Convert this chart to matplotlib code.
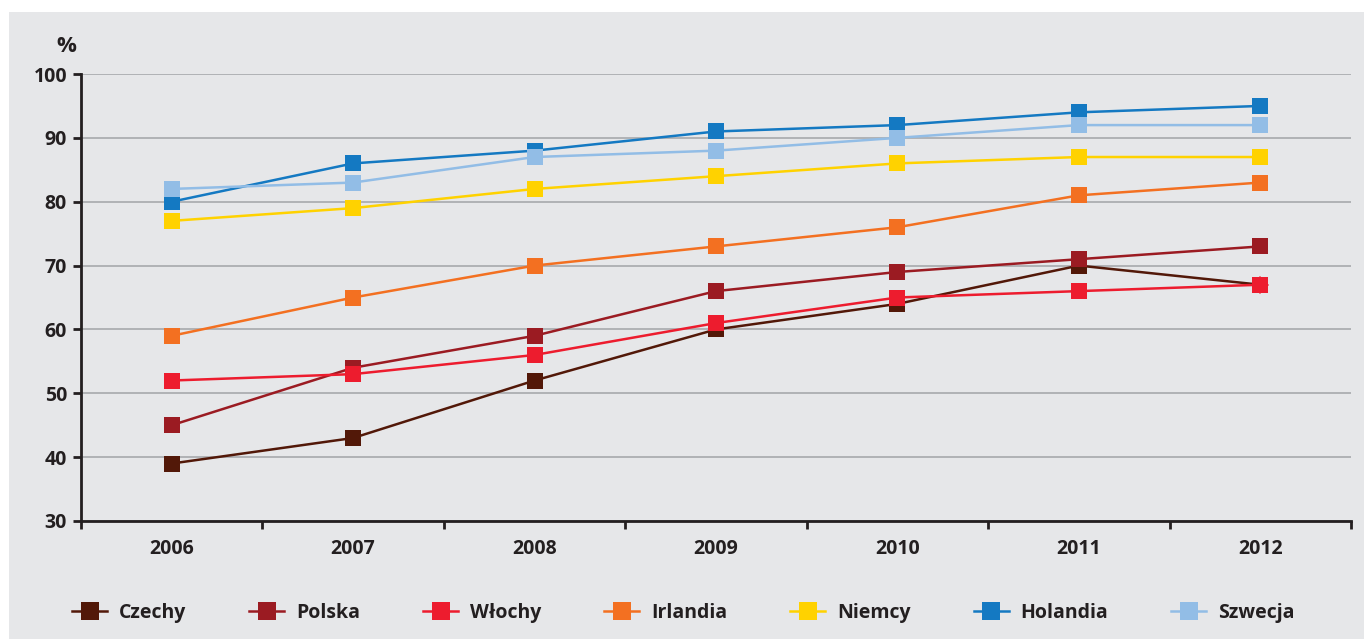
import matplotlib
matplotlib.use('Agg')
import matplotlib.pyplot as plt
from matplotlib.patches import Rectangle
from matplotlib.ticker import MultipleLocator, FixedLocator

plt.rcParams['font.family'] = ['Open Sans', 'DejaVu Sans']

years = ['2006', '2007', '2008', '2009', '2010', '2011', '2012']
czechy = [39, 43, 52, 60, 64, 70, 67]
polska = [45, 54, 59, 66, 69, 71, 73]
wlochy = [52, 53, 56, 61, 65, 66, 67]
irlandia = [59, 65, 70, 73, 76, 81, 83]
niemcy = [77, 79, 82, 84, 86, 87, 87]
holandia = [80, 86, 88, 91, 92, 94, 95]
szwecja = [82, 83, 87, 88, 90, 92, 92]

series = [
    ('Czechy', czechy, '#521808'),
    ('Polska', polska, '#9B1B22'),
    ('Włochy', wlochy, '#ED1C2E'),
    ('Irlandia', irlandia, '#F37021'),
    ('Niemcy', niemcy, '#FFD200'),
    ('Holandia', holandia, '#1479C2'),
    ('Szwecja', szwecja, '#92BDE6'),
]

bg = '#E6E7E9'
dark = '#231F20'

fig = plt.figure(figsize=(13.64, 6.39), dpi=100, facecolor='white')
fig.patches.append(Rectangle((9 / 1364, 0), 1 - 9 / 1364, 1 - 12 / 639,
                             transform=fig.transFigure, facecolor=bg,
                             edgecolor='none', zorder=-10))
ax = fig.add_axes([81 / 1364, 1 - 521 / 639, 1270 / 1364, 447 / 639])
ax.set_facecolor(bg)

x = list(range(len(years)))
handles = []
for name, vals, col in series:
    h, = ax.plot(x, vals, color=col, lw=1.8, marker='s', markersize=11,
                 markeredgewidth=0, label=name, zorder=3)
    handles.append(h)

# red diamond on last point of Włochy
ax.plot(x[-1], wlochy[-1], marker='D', color='#ED1C2E', markersize=9,
        markeredgewidth=0, zorder=4, linestyle='none')

ax.set_xlim(-0.5, 6.5)
ax.set_ylim(30, 100)
ax.yaxis.set_major_locator(MultipleLocator(10))
ax.set_xticks(x)
ax.set_xticklabels(years)
ax.xaxis.set_minor_locator(FixedLocator([i - 0.5 for i in range(8)]))
ax.tick_params(axis='x', which='major', length=0, pad=13)
ax.tick_params(axis='x', which='minor', length=6, width=2, color=dark, direction='out')
ax.tick_params(axis='y', length=6, width=2, color=dark, pad=4)
for lab in ax.get_xticklabels() + ax.get_yticklabels():
    lab.set_fontsize(14)
    lab.set_fontweight('bold')
    lab.set_color(dark)

ax.grid(axis='y', color='#A7A9AC', lw=1.2, zorder=1)
ax.set_axisbelow(True)
for s in ['top', 'right']:
    ax.spines[s].set_visible(False)
for s in ['left', 'bottom']:
    ax.spines[s].set_color(dark)
    ax.spines[s].set_linewidth(2)

fig.text(66 / 1364, 1 - 47 / 639, '%', fontsize=16, fontweight='bold',
         color=dark, ha='center', va='center')

leg = fig.legend(handles=handles, loc='center', bbox_to_anchor=(0.501, 0.041),
                 ncol=7, frameon=False, handlelength=1.8, handletextpad=0.6,
                 columnspacing=3.25, markerscale=1.15,
                 prop={'size': 14, 'weight': 'bold'})
for t in leg.get_texts():
    t.set_color(dark)

fig.savefig('out.png', dpi=100, facecolor='white')
